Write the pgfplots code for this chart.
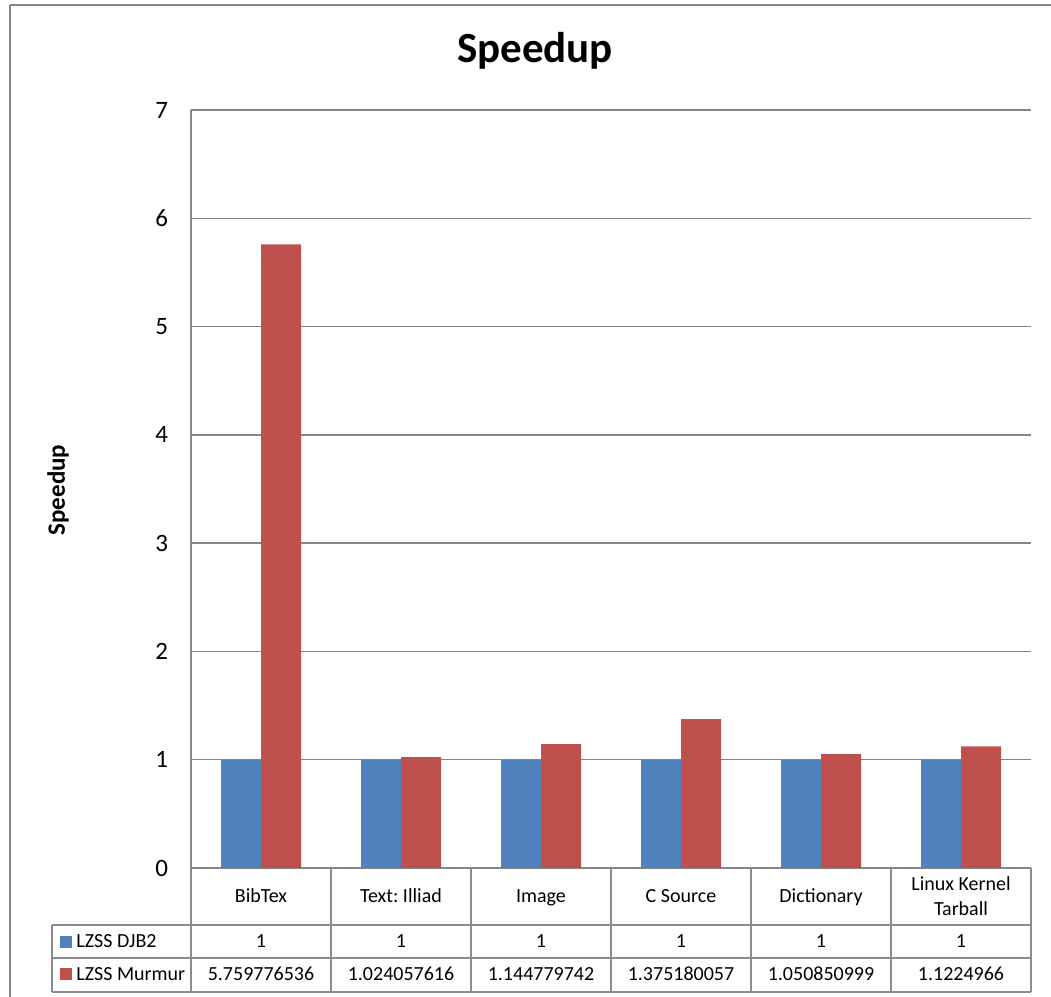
\documentclass[border=0pt]{standalone}
\usepackage{pgfplots}
\pgfplotsset{compat=1.18}
\usepackage{fontspec}
\setmainfont{Carlito}

\definecolor{djbblue}{HTML}{4F81BD}
\definecolor{murred}{HTML}{C0504D}
\definecolor{framegray}{HTML}{868686}
\definecolor{tablegray}{HTML}{8C8C8C}

\begin{document}
\frenchspacing
\begin{tikzpicture}[x=0.5pt,y=0.5pt]
% outer chart frame
\draw[framegray, line width=0.6pt] (10,992) -- (1070,992);
\draw[framegray, line width=0.6pt] (10,992) -- (10,-20);

\begin{axis}[
  at={(95.5pt,64.5pt)}, anchor=south west,
  scale only axis, width=420pt, height=379pt,
  xmin=-0.5, xmax=5.5, ymin=0, ymax=7,
  ytick={0,1,...,7}, xtick=\empty,
  major tick length=0pt,
  axis x line*=bottom, axis y line*=left,
  axis line style={-, framegray, line width=0.7pt},
  ymajorgrids, grid style={framegray, line width=0.7pt},
  /pgf/number format/assume math mode=true,
  yticklabel style={font=\fontsize{12.5}{15}\selectfont, xshift=-8pt},
  ybar=0pt, bar width=20pt,
  clip=false,
]
% LZSS DJB2
\addplot[fill=djbblue, draw=none] coordinates {
  (0,1) (1,1) (2,1) (3,1) (4,1) (5,1)};
% LZSS Murmur
\addplot[fill=murred, draw=none] coordinates {
  (0,5.759776536) (1,1.024057616) (2,1.144779742)
  (3,1.375180057) (4,1.050850999) (5,1.1224966)};
\end{axis}

% chart title and value-axis title
\node[anchor=base, inner sep=0, font=\fontsize{21.5}{26}\selectfont\bfseries] at (535,934) {Speedup};
\node[rotate=90, inner sep=0, font=\fontsize{12.5}{15}\selectfont\bfseries] at (58,507) {Speedup};

% data table grid
\begin{scope}[tablegray, line width=0.6pt]
  \draw (52,72) -- (1031,72);
  \draw (52,39) -- (1031,39);
  \draw (52,5) -- (1031,5);
  \draw (52,72) -- (52,5);
  \foreach \xx in {191,331,471,611,751,891,1031} {
    \draw (\xx,129) -- (\xx,5);
  }
\end{scope}

% category row
\begin{scope}[every node/.style={anchor=base, inner sep=0, font=\fontsize{10}{12.5}\selectfont}]
  \node at (261,94) {BibTex};
  \node at (401,94) {Text: Illiad};
  \node at (541,94) {Image};
  \node at (681,94) {C Source};
  \node at (821,94) {Dictionary};
  \node at (961,106) {Linux Kernel};
  \node at (961,81) {Tarball};
  % LZSS DJB2 row
  \foreach \xx in {261,401,541,681,821,961} {
    \node at (\xx,49) {1};
  }
  % LZSS Murmur row
  \node at (261,16) {5.759776536};
  \node at (401,16) {1.024057616};
  \node at (541,16) {1.144779742};
  \node at (681,16) {1.375180057};
  \node at (821,16) {1.050850999};
  \node at (961,16) {1.1224966};
\end{scope}

% legend keys in the table
\fill[djbblue] (60,49) rectangle (72,61);
\fill[murred] (60,17) rectangle (72,29);
\node[anchor=base west, inner sep=0, font=\fontsize{10}{12.5}\selectfont] at (76,49) {LZSS DJB2};
\node[anchor=base west, inner sep=0, font=\fontsize{10}{12.5}\selectfont] at (76,16) {LZSS Murmur};

\pgfresetboundingbox
\useasboundingbox (0,0) rectangle (1051,997);
\end{tikzpicture}
\end{document}
